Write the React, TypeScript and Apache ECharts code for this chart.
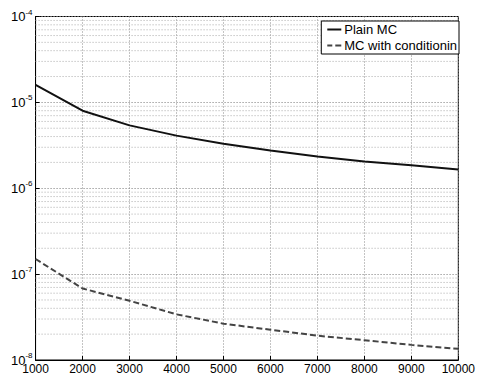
import React, { useEffect, useRef } from "react";
import * as echarts from "echarts";

const samples = [1000, 2000, 3000, 4000, 5000, 6000, 7000, 8000, 9000, 10000];
const plainMC = [1.6e-5, 8.0e-6, 5.4e-6, 4.1e-6, 3.3e-6, 2.75e-6, 2.35e-6, 2.05e-6, 1.85e-6, 1.65e-6];
const conditioned = [1.5e-7, 6.8e-8, 4.9e-8, 3.4e-8, 2.65e-8, 2.25e-8, 1.92e-8, 1.7e-8, 1.5e-8, 1.35e-8];
const seriesNames = ["Plain MC", "MC with conditioning"];
const decades = [1e-8, 1e-7, 1e-6, 1e-5];
const minorMultipliers = [2, 3, 4, 5, 6, 7, 8, 9];

const FONT = "'Liberation Sans', Arial, Helvetica, sans-serif";

export default function App() {
  const ref = useRef<HTMLDivElement>(null);
  useEffect(() => {
    if (!ref.current) return;
    const chart = echarts.init(ref.current, undefined, { renderer: "svg" });
    const minorData: any[] = [];
    decades.forEach((d) =>
      minorMultipliers.forEach((m) => {
        minorData.push([samples[0], d * m]);
        minorData.push([samples[samples.length - 1], d * m]);
        minorData.push([samples[0], "-"]);
      })
    );
    chart.setOption({
      animation: false,
      backgroundColor: "#fff",
      textStyle: { fontFamily: FONT },
      grid: {
        left: 22,
        right: 10,
        top: 2,
        bottom: 12,
        show: true,
        borderColor: "#000",
        borderWidth: 1,
        backgroundColor: "transparent",
      },
      legend: {
        right: 19,
        top: 13,
        orient: "vertical",
        backgroundColor: "#fff",
        borderColor: "#000",
        borderWidth: 1,
        padding: [2, 2, 2, 6],
        itemGap: 3,
        itemWidth: 14,
        itemHeight: 2,
        textStyle: {
          fontSize: 13,
          color: "#000",
          fontFamily: FONT,
          padding: [0, 0, 0, -2],
          width: 116,
          overflow: "truncate",
          ellipsis: "",
        },
        data: [
          { name: seriesNames[0], icon: "rect" },
          { name: seriesNames[1], icon: "path://M0,0h5v2h-5z M8,0h6v2h-6z" },
        ],
      },
      xAxis: {
        type: "value",
        min: 1000,
        max: 10000,
        interval: 1000,
        axisLine: { show: true, lineStyle: { color: "#000" } },
        axisTick: { inside: true, length: 4, lineStyle: { color: "#000" } },
        axisLabel: {
          color: "#000",
          fontSize: 12,
          margin: 3,
          fontFamily: FONT,
          formatter: (v: number) => String(v),
        },
        splitLine: { show: true, lineStyle: { type: [1, 2], color: "#888" } },
      },
      yAxis: {
        type: "log",
        logBase: 10,
        min: 1e-8,
        max: 1e-4,
        axisLine: { show: true, lineStyle: { color: "#000" } },
        axisTick: { inside: true, length: 4, lineStyle: { color: "#000" } },
        axisLabel: {
          margin: 3,
          formatter: (v: number) => `{b|10}{s|${Math.round(Math.log10(v))}}`,
          rich: {
            b: { fontSize: 13, color: "#000", fontFamily: FONT },
            s: { fontSize: 8, color: "#000", fontFamily: FONT, padding: [0, 0, 9, 0] },
          },
        },
        splitLine: { show: true, lineStyle: { type: [1, 2], color: "#777" } },
      },
      series: [
        {
          name: "minor-grid",
          type: "line",
          data: minorData,
          symbol: "none",
          silent: true,
          connectNulls: false,
          lineStyle: { color: "#aaa", width: 1, type: [1, 2] },
          z: 1,
        },
        {
          name: seriesNames[0],
          type: "line",
          data: samples.map((x, i) => [x, plainMC[i]]),
          symbol: "none",
          lineStyle: { color: "#111", width: 2 },
          itemStyle: { color: "#111" },
          z: 5,
        },
        {
          name: seriesNames[1],
          type: "line",
          data: samples.map((x, i) => [x, conditioned[i]]),
          symbol: "none",
          lineStyle: { color: "#444", width: 2, type: [6, 3] },
          itemStyle: { color: "#444" },
          z: 5,
        },
      ],
    });
    return () => chart.dispose();
  }, []);
  return <div ref={ref} style={{ width: 470, height: 367 }} />;
}
